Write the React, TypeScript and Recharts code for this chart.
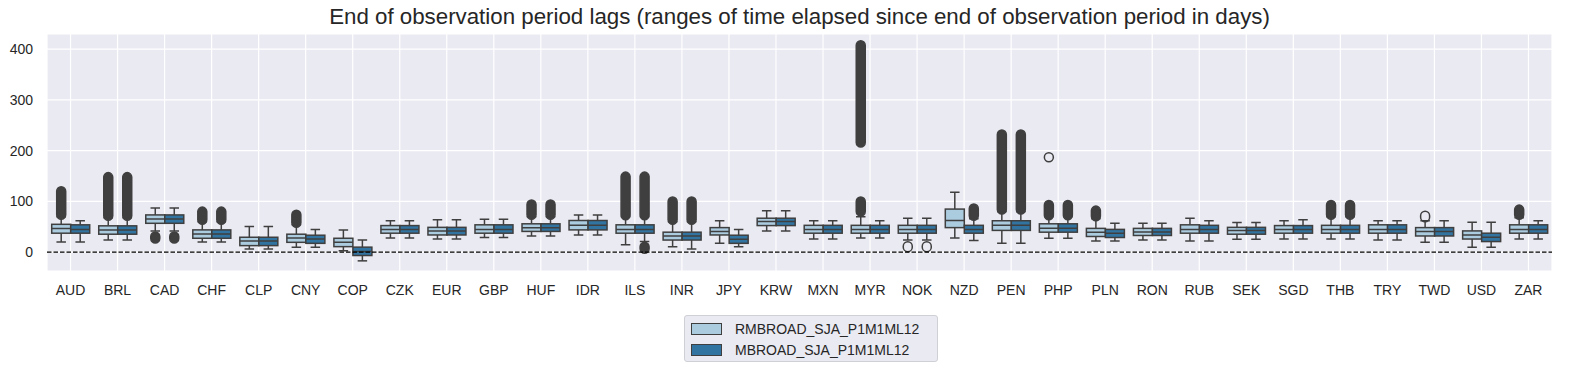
import { ComposedChart, Bar, XAxis, YAxis, CartesianGrid, ReferenceLine } from 'recharts';

const currencies = ['AUD','BRL','CAD','CHF','CLP','CNY','COP','CZK','EUR','GBP','HUF','IDR','ILS','INR','JPY','KRW','MXN','MYR','NOK','NZD','PEN','PHP','PLN','RON','RUB','SEK','SGD','THB','TRY','TWD','USD','ZAR'];

// [whisker low, q1, median, q3, whisker high]
const rmStats: number[][] = [
  [20,37.5,46.5,55,70],[24,35.5,44,52,68],[42,57,65.5,73.5,87],[20,27.5,36,44,60],[6.5,13,22,29.5,50.5],
  [10,19.5,28,35.5,54],[3,11,19.5,27.5,44],[28,37.5,45,52.5,62],[26,34,42,49,64],[29,37.5,45,54,65],
  [32,41,48,56,70],[34,44,53,62.5,73.5],[14.5,37.5,45,54,70],[11,24,32,39.5,60],[17.5,34,41,48.5,62],
  [42,52.5,60.5,67,81.5],[26,37.5,45,53,62],[28,37.5,45,53,70],[24,37.5,45,53,67],[28,48.5,62.5,85,118],
  [17.5,43,53,62,80],[27.5,39.5,47,56,70],[22,31,39.5,47,66],[24,33,40,47,57],[22,37.5,45,54,67],
  [25.5,35.5,43,49,58.5],[26,37.5,45,52.5,62],[26,37.5,45,53,70],[24,37.5,45,54,62],[19.5,32,41,48.5,62],
  [10,26,34,42,59],[26,37.5,45,54,68],
];
const mStats: number[][] = [
  [20,37.5,45,54,62],[24,35.5,44,52,68],[42,57,65.5,73.5,87],[20,27.5,36,44,60],[6.5,13,22,29.5,50.5],
  [10,17.5,26,33.5,45],[-17,-6.5,1.5,10,24],[28,37.5,45,52.5,62],[26,34,42,49,64],[29,37.5,45,54,65],
  [32,41,48,56,70],[34,44,53,62.5,73.5],[21,37.5,45,54,70],[6.5,24,32,39.5,60],[11,17.5,25.5,33.5,45],
  [42,52.5,60.5,67,81.5],[26,37.5,45,53,62],[28,37.5,45,53,62],[24,37.5,45,53,67],[23,37.5,45,53,66],
  [17.5,43,53,62,80],[27.5,39.5,47,56,70],[22,29,37.5,45,57],[24,33,40,47,57],[22,37.5,45,53,62],
  [25.5,35.5,43,49,58.5],[26,37.5,45,52.5,64],[26,37.5,45,53,70],[24,37.5,45,54,62],[19.5,32,41,48.5,62],
  [10,21,29.5,37.5,59],[26,37.5,45,54,62],
];

// outlier runs [from, to] per currency
const rmOutliers: [number, number][][] = [
  [[74,120]],[[72,148]],[[27,31]],[[64,80]],[],[[58,74]],[],[],[],[],
  [[74,94]],[],[[73,149]],[[64,100]],[],[],[],[[80,100],[216,408]],[[10,12]],[],
  [[84,232]],[[73,93],[187,187]],[[71,82]],[],[],[],[],[[74,93]],[],[[69,72]],
  [],[[74,84]],
];
const mOutliers: [number, number][][] = [
  [],[[72,148]],[[27,31]],[[64,80]],[],[],[],[],[],[],
  [[74,94]],[],[[7,11],[73,149]],[[64,100]],[],[],[],[],[[10,12]],[[72,86]],
  [[84,232]],[[73,93]],[],[],[],[],[],[[74,93]],[],[],
  [],[],
];

const seriesNames = ['RMBROAD_SJA_P1M1ML12', 'MBROAD_SJA_P1M1ML12'];
const seriesColors = ['#abcbdf', '#3274a1'];
const yTicks = [0, 100, 200, 300, 400];

const LINE = '#3f3f3f';
const FONT = '"Liberation Sans", Arial, sans-serif';

const span = (s: number[], out: [number, number][]) => [
  Math.min(s[0], ...out.map(o => o[0])),
  Math.max(s[4], ...out.map(o => o[1])),
];

const data = currencies.map((c, i) => ({
  name: c,
  rm: { s: rmStats[i], out: rmOutliers[i] },
  m: { s: mStats[i], out: mOutliers[i] },
  rmSpan: span(rmStats[i], rmOutliers[i]),
  mSpan: span(mStats[i], mOutliers[i]),
}));

const makeBox = (key: 'rm' | 'm', fill: string) => (props: any) => {
  const { x, y, width, height, payload } = props;
  const [lo, hi] = payload[key + 'Span'];
  const top = Math.min(y, y + height);
  const bot = Math.max(y, y + height);
  const py = (v: number) => bot - ((v - lo) / (hi - lo)) * (bot - top);
  const [wl, q1, med, q3, wh] = payload[key].s;
  const cx = x + width / 2;
  const cap = width / 4;
  const r = 4.5;
  const sw = 1.5;
  return (
    <g>
      <line x1={cx} x2={cx} y1={py(q3)} y2={py(wh)} stroke={LINE} strokeWidth={sw} />
      <line x1={cx} x2={cx} y1={py(q1)} y2={py(wl)} stroke={LINE} strokeWidth={sw} />
      <line x1={cx - cap} x2={cx + cap} y1={py(wh)} y2={py(wh)} stroke={LINE} strokeWidth={sw} />
      <line x1={cx - cap} x2={cx + cap} y1={py(wl)} y2={py(wl)} stroke={LINE} strokeWidth={sw} />
      <rect x={x} y={py(q3)} width={width} height={py(q1) - py(q3)} fill={fill} stroke={LINE} strokeWidth={sw} />
      <line x1={x} x2={x + width} y1={py(med)} y2={py(med)} stroke={LINE} strokeWidth={sw} />
      {payload[key].out.map(([a, b]: [number, number], j: number) => (
        <rect key={j} x={cx - r} y={py(b) - r} width={2 * r} height={py(a) - py(b) + 2 * r} rx={r}
          fill={b - a >= 4 ? LINE : 'none'} stroke={LINE} strokeWidth={1.5} />
      ))}
    </g>
  );
};

export default function App() {
  return (
    <div style={{ position: 'absolute', left: 0, top: 0, width: 1584, height: 373, background: '#fff', fontFamily: FONT }}>
      <div style={{ position: 'absolute', left: 47, width: 1505, top: 4, textAlign: 'center', fontSize: 22.3, color: '#262626' }}>
        End of observation period lags (ranges of time elapsed since end of observation period in days)
      </div>
      <ComposedChart width={1584} height={373} data={data} margin={{ top: 34, right: 32, bottom: 72, left: 0 }}
        barCategoryGap="10%" barGap={0}>
        <CartesianGrid stroke="#ffffff" strokeWidth={1.2} fill="#eaeaf2" />
        <XAxis dataKey="name" axisLine={false} tickLine={false} tickMargin={8} interval={0} height={30}
          tick={{ fontSize: 14, fill: '#262626', fontFamily: FONT }} />
        <YAxis domain={[-37, 430]} ticks={yTicks} axisLine={false} tickLine={false} width={47} tickMargin={8}
          tick={{ fontSize: 14, fill: '#262626', fontFamily: FONT }} allowDataOverflow />
        <ReferenceLine y={0} stroke="#000" strokeDasharray="4.5 2" strokeWidth={1.3} />
        <Bar dataKey="rmSpan" name={seriesNames[0]} fill={seriesColors[0]} shape={makeBox('rm', seriesColors[0])} isAnimationActive={false} />
        <Bar dataKey="mSpan" name={seriesNames[1]} fill={seriesColors[1]} shape={makeBox('m', seriesColors[1])} isAnimationActive={false} />
      </ComposedChart>
      <div style={{ position: 'absolute', left: 684, top: 315, width: 254, height: 47, border: '1px solid #cfcfd6', borderRadius: 3,
        background: '#eaeaf2', boxSizing: 'border-box', padding: '2px 0 0 6px', fontSize: 14, color: '#262626' }}>
        {seriesNames.map((n, i) => (
          <div key={n} style={{ display: 'flex', alignItems: 'center', height: 21 }}>
            <span style={{ display: 'inline-block', width: 29, height: 10, background: seriesColors[i], border: `1px solid ${LINE}`, marginRight: 13 }} />
            {n}
          </div>
        ))}
      </div>
    </div>
  );
}
